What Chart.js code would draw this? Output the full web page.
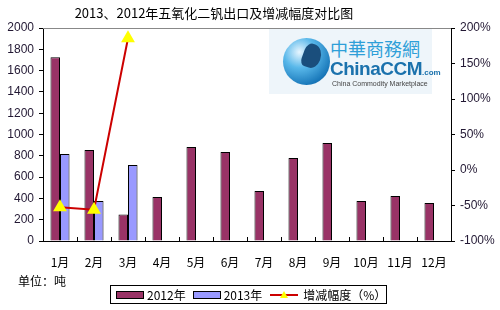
<!DOCTYPE html>
<html>
<head>
<meta charset="utf-8">
<script src="https://cdn.jsdelivr.net/npm/chart.js@4/dist/chart.umd.min.js"></script>
<style>
  body { margin: 0; background: #fff; }
  #wrap { position: relative; width: 500px; height: 310px; overflow: hidden; font-family: "Noto Sans CJK SC", sans-serif; }
  #chart { position: absolute; left: 0; top: 0; }
  #title { position: absolute; left: 0; width: 428px; top: 3px; text-align: center; font-size: 13px; color: #000; }
  #unit { position: absolute; left: 18px; top: 272px; font-size: 12px; color: #000; }
  #legend { position: absolute; left: 110px; top: 285px; width: 277px; height: 19px; border: 1px solid #000; box-sizing: border-box; font-size: 12px; display: flex; align-items: center; white-space: nowrap; line-height: 16px; }
  #legend span { display: inline-flex; align-items: center; flex: none; }
  .sw { display: inline-block; width: 26px; height: 6px; border: 1px solid #000; margin: 0 3px 0 5px; }
  #logo { position: absolute; left: 269px; top: 29px; width: 163px; height: 65px; background: #eef5fa; }
  #globe { position: absolute; left: 14px; top: 9px; width: 47px; height: 47px; border-radius: 50%;
    background: radial-gradient(circle at 35% 30%, #e8f6ff 0%, #59b8ea 35%, #1877b9 75%, #0d4f86 100%); }
  #globe i { position: absolute; left: 20px; top: 6px; width: 18px; height: 24px; background: #1a4e7c; border-radius: 40% 60% 50% 30%; transform: rotate(20deg); }
  #cn { position: absolute; left: 61px; top: 9px; font-size: 18px; color: #2e9fd8; line-height: 20px; }
  #en { position: absolute; left: 61px; top: 30px; font-family: "Liberation Sans", Arial, sans-serif; font-weight: bold; font-size: 19px; color: #1b72ad; line-height: 20px; letter-spacing: -0.5px; }
  #en small { font-size: 8px; letter-spacing: 0; }
  #sub { position: absolute; left: 63px; top: 50px; font-family: "Liberation Sans", Arial, sans-serif; font-size: 7px; color: #444; line-height: 9px; }
</style>
</head>
<body>
<div id="wrap">
  <canvas id="chart" width="500" height="310"></canvas>
  <div id="logo">
    <div id="globe"><i></i></div>
    <div id="cn">中華商務網</div>
    <div id="en">ChinaCCM<small>.com</small></div>
    <div id="sub">China Commodity Marketplace</div>
  </div>
  <div id="title">2013、2012年五氧化二钒出口及增减幅度对比图</div>
  <div id="unit">单位：吨</div>
  <div id="legend">
    <span><i class="sw" style="background:#993366"></i>2012年</span>
    <span><i class="sw" style="background:#9999ff;margin-left:7px"></i>2013年</span>
    <span><svg width="32" height="10" style="margin:0 2px 0 7px"><line x1="1" y1="5" x2="29" y2="5" stroke="#cc0000" stroke-width="2"/><polygon points="15,1 19,8 11,8" fill="#ffff00"/></svg>增减幅度（%）</span>
  </div>
</div>
<script>
const months = ['1月', '2月', '3月', '4月', '5月', '6月', '7月', '8月', '9月', '10月', '11月', '12月'];
const exports2012 = [1725, 855, 250, 413, 883, 835, 469, 779, 920, 376, 423, 357];
const exports2013 = [817, 376, 714, null, null, null, null, null, null, null, null, null];
const changePct = [-52.6, -56.0, 185.6, null, null, null, null, null, null, null, null, null];

// plot box top border + small x ticks pointing into the plot
const frame = {
  id: 'frame',
  afterDraw(chart) {
    const { ctx, chartArea: a, scales } = chart;
    ctx.save();
    ctx.strokeStyle = '#888';
    ctx.lineWidth = 1;
    ctx.beginPath();
    ctx.moveTo(a.left, a.top + 0.5);
    ctx.lineTo(a.right, a.top + 0.5);
    ctx.stroke();
    ctx.strokeStyle = '#000';
    const x = scales.x;
    const half = (x.getPixelForValue(1) - x.getPixelForValue(0)) / 2;
    for (let i = 1; i < months.length; i++) {
      const px = Math.round(x.getPixelForValue(i) - half) + 0.5;
      ctx.beginPath();
      ctx.moveTo(px, a.bottom);
      ctx.lineTo(px, a.bottom - 4);
      ctx.stroke();
    }
    ctx.restore();
  }
};

new Chart(document.getElementById('chart'), {
  type: 'bar',
  data: {
    labels: months,
    datasets: [
      { type: 'line', label: '增减幅度（%）', data: changePct, yAxisID: 'y1', borderColor: '#cc0000', borderWidth: 2,
        pointStyle: 'triangle', pointRadius: 6, pointBackgroundColor: '#ffff00', pointBorderColor: '#ffff00',
        tension: 0, order: 0 },
      { label: '2012年', data: exports2012, backgroundColor: '#993366', borderColor: '#000', borderWidth: 1, order: 1 },
      { label: '2013年', data: exports2013, backgroundColor: '#9999ff', borderColor: '#000', borderWidth: 1, order: 1 }
    ]
  },
  options: {
    responsive: false,
    animation: false,
    layout: { padding: { top: 28, left: 0, right: 0, bottom: 0 } },
    datasets: { bar: { categoryPercentage: 0.56, barPercentage: 1 } },
    plugins: { legend: { display: false }, tooltip: { enabled: false } },
    scales: {
      x: {
        grid: { display: false },
        border: { color: '#000' },
        ticks: { color: '#000', font: { family: 'Noto Sans CJK SC', size: 12 }, padding: 6, maxRotation: 0 },
        afterFit(s) { s.height = 69; }
      },
      y: {
        position: 'left', min: 0, max: 2000,
        ticks: { stepSize: 200, color: '#221833', font: { family: 'Liberation Sans', size: 12 }, padding: 5, callback: v => String(v) },
        grid: { drawOnChartArea: false, tickLength: 4, color: '#000' },
        border: { color: '#000' },
        afterFit(s) { s.width = 43; }
      },
      y1: {
        position: 'right', min: -100, max: 200,
        ticks: { stepSize: 50, color: '#221833', font: { family: 'Liberation Sans', size: 12 }, padding: 5, callback: v => v + '%' },
        grid: { drawOnChartArea: false, tickLength: 4, color: '#000' },
        border: { color: '#000' },
        afterFit(s) { s.width = 49; }
      }
    }
  },
  plugins: [frame]
});
</script>
</body>
</html>
